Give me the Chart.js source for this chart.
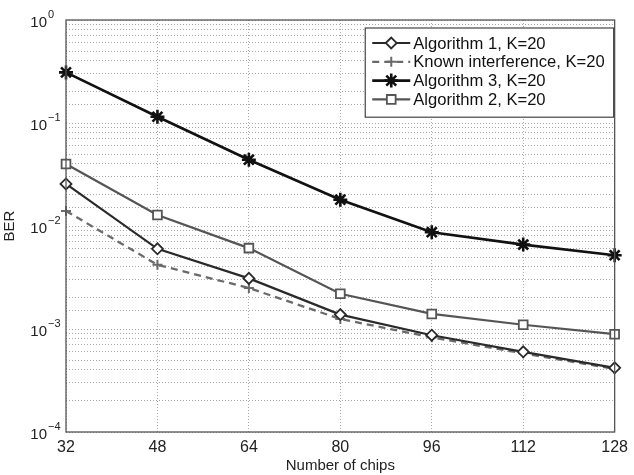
<!DOCTYPE html>
<html>
<head>
<meta charset="utf-8">
<script src="https://cdn.jsdelivr.net/npm/chart.js@4"></script>
<style>
  html, body { margin: 0; padding: 0; background: #fff; }
  #wrap { width: 634px; height: 475px; }
</style>
</head>
<body>
<div id="wrap"><canvas id="chart" width="634" height="475"></canvas></div>
<script>
'use strict';

// BER vs number of chips
const chips = [32, 48, 64, 80, 96, 112, 128];
const alg1 = [0.0256, 0.0060, 0.0031, 0.00138, 0.00087, 0.00060, 0.00042];
const known = [0.0140, 0.0042, 0.0025, 0.00125, 0.00083, 0.00058, 0.00041];
const alg3 = [0.31, 0.115, 0.044, 0.018, 0.0087, 0.0066, 0.0052];
const alg2 = [0.040, 0.0128, 0.0061, 0.0022, 0.0014, 0.0011, 0.00089];
const seriesNames = ['Algorithm 1, K=20', 'Known interference, K=20', 'Algorithm 3, K=20', 'Algorithm 2, K=20'];
const yExponents = [0, -1, -2, -3, -4];

const FONT = "'Liberation Sans', Arial, Helvetica, sans-serif";

function points(values) {
  return chips.map((c, i) => ({ x: c, y: values[i] }));
}

// frame, y tick labels as 10^n and the boxed legend
const extras = {
  id: 'extras',
  afterDraw(chart) {
    const ctx = chart.ctx;
    const area = chart.chartArea;
    const y = chart.scales.y;
    ctx.save();

    ctx.strokeStyle = '#555';
    ctx.lineWidth = 1.3;
    ctx.strokeRect(area.left, area.top, area.right - area.left, area.bottom - area.top);

    ctx.fillStyle = '#222';
    for (const e of yExponents) {
      const py = y.getPixelForValue(Math.pow(10, e));
      ctx.font = '15px ' + FONT;
      ctx.textAlign = 'right';
      ctx.textBaseline = 'alphabetic';
      ctx.fillText('10', area.left - 19, py + 7);
      ctx.font = '11px ' + FONT;
      ctx.textAlign = 'left';
      ctx.fillText(e === 0 ? '0' : '\u2212' + Math.abs(e), area.left - 18, py - 2);
    }

    // legend
    const legendFont = '16.6px ' + FONT;
    ctx.font = legendFont;
    let maxW = 0;
    for (const n of seriesNames) maxW = Math.max(maxW, ctx.measureText(n).width);
    const boxW = 7 + 38 + 3 + maxW + 9;
    const boxR = area.right - 1;
    const boxL = boxR - boxW;
    const boxT = area.top + 8;
    const rowH = 18.8;
    const boxH = 14 + rowH * 4;
    ctx.fillStyle = '#fff';
    ctx.fillRect(boxL, boxT, boxW, boxH);
    ctx.strokeStyle = '#444';
    ctx.lineWidth = 1.2;
    ctx.strokeRect(boxL, boxT, boxW, boxH);

    chart.data.datasets.forEach((ds, i) => {
      const ry = boxT + 15 + i * rowH;
      const x0 = boxL + 7;
      const x1 = x0 + 38;
      ctx.strokeStyle = ds.borderColor;
      ctx.lineWidth = ds.borderWidth;
      ctx.setLineDash(ds.borderDash || []);
      ctx.beginPath();
      ctx.moveTo(x0, ry);
      ctx.lineTo(x1, ry);
      ctx.stroke();
      ctx.setLineDash([]);
      ctx.fillStyle = ds.pointBackgroundColor;
      ctx.strokeStyle = ds.pointBorderColor;
      ctx.lineWidth = ds.pointBorderWidth;
      Chart.helpers.drawPoint(ctx, {
        pointStyle: ds.pointStyle,
        radius: ds.pointRadius,
        borderWidth: ds.pointBorderWidth,
        rotation: 0
      }, (x0 + x1) / 2, ry);
      ctx.fillStyle = '#111';
      ctx.font = legendFont;
      ctx.textAlign = 'left';
      ctx.textBaseline = 'middle';
      ctx.fillText(seriesNames[i], x1 + 3, ry + 1);
    });

    ctx.restore();
  }
};

function series(label, values, color, width, style, radius, pw, dash) {
  return {
    label: label,
    data: points(values),
    borderColor: color,
    borderWidth: width,
    borderDash: dash || [],
    pointStyle: style,
    pointRadius: radius,
    pointBorderWidth: pw,
    pointBorderColor: color,
    pointBackgroundColor: '#fff',
    tension: 0,
    clip: false
  };
}

new Chart(document.getElementById('chart'), {
  type: 'line',
  data: {
    datasets: [
      series(seriesNames[0], alg1, '#2a2a2a', 2.2, 'rectRot', 5.5, 1.8),
      series(seriesNames[1], known, '#6a6a6a', 2.3, 'cross', 5, 2, [7, 5]),
      series(seriesNames[2], alg3, '#111', 2.6, 'star', 7, 2.6),
      series(seriesNames[3], alg2, '#555', 2.2, 'rect', 6.2, 1.8)
    ]
  },
  options: {
    responsive: false,
    animation: false,
    layout: { padding: { top: 20, right: 1, left: 0, bottom: 0 } },
    plugins: { legend: { display: false }, tooltip: { enabled: false } },
    scales: {
      x: {
        type: 'linear',
        min: 32,
        max: 128,
        afterFit(scale) { scale.height = 43; },
        afterBuildTicks(scale) { scale.ticks = chips.map(v => ({ value: v })); },
        ticks: { color: '#222', font: { family: FONT, size: 16 }, padding: 6, maxRotation: 0 },
        grid: { color: '#a8a8a8', lineWidth: 1, drawTicks: false },
        border: { display: false, dash: [1, 2] },
        title: { display: true, text: 'Number of chips', color: '#222', font: { family: FONT, size: 15 }, padding: { top: 0, bottom: 0 } }
      },
      y: {
        type: 'logarithmic',
        min: 1e-4,
        max: 1,
        afterFit(scale) { scale.width = 66; },
        ticks: { callback: () => '', autoSkip: false },
        grid: { color: '#a8a8a8', lineWidth: 1, drawTicks: false },
        border: { display: false, dash: [1, 2] },
        title: { display: true, text: 'BER', color: '#222', font: { family: FONT, size: 15 }, padding: { top: 1, bottom: 0 } }
      }
    }
  },
  plugins: [extras]
});
</script>
</body>
</html>
